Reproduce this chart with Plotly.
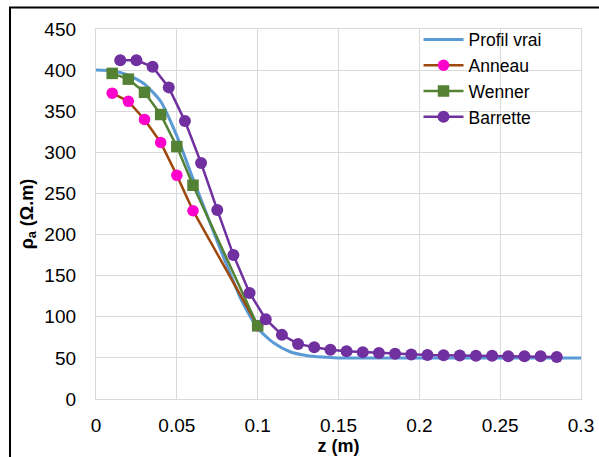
import plotly.graph_objects as go

# True profile
z_vrai = [0, 0.01, 0.02, 0.03, 0.04, 0.05, 0.06, 0.07, 0.08, 0.09, 0.1, 0.11, 0.12, 0.13, 0.14, 0.15, 0.2, 0.3]
rho_vrai = [400, 399, 394, 383, 362, 320, 268, 217, 167, 120, 86, 68, 57.5, 53, 51, 50, 50, 50]

# Anneau
z_anneau = [0.01, 0.02, 0.03, 0.04, 0.05, 0.06, 0.1]
rho_anneau = [372, 362, 340, 312, 272, 229, 89]

# Wenner
z_wenner = [0.01, 0.02, 0.03, 0.04, 0.05, 0.06, 0.1]
rho_wenner = [396, 389, 373, 346, 307, 260, 89]

# Barrette
z_barrette = [0.015, 0.025, 0.035, 0.045, 0.055, 0.065, 0.075, 0.085, 0.095, 0.105,
              0.115, 0.125, 0.135, 0.145, 0.155, 0.165, 0.175, 0.185, 0.195, 0.205,
              0.215, 0.225, 0.235, 0.245, 0.255, 0.265, 0.275, 0.285]
rho_barrette = [412, 412, 404, 379, 338, 287, 230, 175, 129, 97,
                78, 67, 63, 60, 58, 57, 56, 55, 54, 53.5,
                53.3, 53, 52.7, 52.7, 52, 52, 52, 51]

x_ticks = [0, 0.05, 0.1, 0.15, 0.2, 0.25, 0.3]
x_ticklabels = ["0", "0.05", "0.1", "0.15", "0.2", "0.25", "0.3"]
y_ticks = [0, 50, 100, 150, 200, 250, 300, 350, 400, 450]

FONT = "Arial, Liberation Sans, sans-serif"

fig = go.Figure()
fig.add_trace(go.Scatter(x=z_vrai, y=rho_vrai, mode="lines", name="Profil vrai",
                         line=dict(color="#5B9BD5", width=3, shape="spline", smoothing=0.6)))
fig.add_trace(go.Scatter(x=z_anneau, y=rho_anneau, mode="lines+markers", name="Anneau",
                         line=dict(color="#9E480E", width=2.5),
                         marker=dict(color="#FF00CC", size=11.5, symbol="circle",
                                     line=dict(width=0))))
fig.add_trace(go.Scatter(x=z_wenner, y=rho_wenner, mode="lines+markers", name="Wenner",
                         line=dict(color="#548235", width=2.5),
                         marker=dict(color="#548235", size=11.5, symbol="square",
                                     line=dict(width=0))))
fig.add_trace(go.Scatter(x=z_barrette, y=rho_barrette, mode="lines+markers", name="Barrette",
                         line=dict(color="#7030A0", width=2.5),
                         marker=dict(color="#7030A0", size=12, symbol="circle",
                                     line=dict(width=0))))

fig.update_layout(
    width=599, height=457,
    margin=dict(l=96, r=18, t=29, b=58, autoexpand=False),
    paper_bgcolor="white", plot_bgcolor="white",
    font=dict(family=FONT, size=19, color="black"),
    showlegend=True,
    legend=dict(x=0.665, y=1.02, xanchor="left", yanchor="top",
                bgcolor="rgba(0,0,0,0)", borderwidth=0,
                font=dict(family=FONT, size=17.5, color="black"),
                tracegroupgap=0, itemwidth=40),
    xaxis=dict(range=[0, 0.3], tickvals=x_ticks, ticktext=x_ticklabels,
               showgrid=True, gridcolor="#D9D9D9", gridwidth=1.3,
               zeroline=False, showline=True, linecolor="#D9D9D9", linewidth=1.3,
               ticks="", ticklabelstandoff=9, automargin=False,
               tickfont=dict(size=19),
               title=dict(text="<b>z (m)</b>", standoff=0, font=dict(size=18))),
    yaxis=dict(range=[0, 450], tickvals=y_ticks,
               showgrid=True, gridcolor="#D9D9D9", gridwidth=1.3,
               zeroline=False, showline=True, linecolor="#D9D9D9", linewidth=1.3,
               ticks="", ticklabelstandoff=15, automargin=False,
               tickfont=dict(size=19),
               title=dict(text="<b>ρ<sub>a</sub> (Ω.m)</b>", standoff=6, font=dict(size=18))),
    shapes=[
        # white legend background hiding the gridlines
        dict(type="rect", xref="paper", yref="paper",
             x0=(415 - 96) / 485, x1=(579.5 - 96) / 485,
             y0=(399 - 125) / 370, y1=(399 - 30.5) / 370,
             line=dict(width=0), fillcolor="white", layer="between"),
        # outer chart frame
        dict(type="rect", xref="paper", yref="paper",
             x0=(10 - 96) / 485, x1=(610 - 96) / 485,
             y0=(399 - 480) / 370, y1=(399 - 7.5) / 370,
             line=dict(color="black", width=2), fillcolor="rgba(0,0,0,0)",
             layer="above"),
    ],
)
fig.update_xaxes(mirror=True)
fig.update_yaxes(mirror=True)

fig.write_html("out.html", config={"displayModeBar": False},
               post_script="document.body.style.margin='0';document.body.style.padding='0';")
